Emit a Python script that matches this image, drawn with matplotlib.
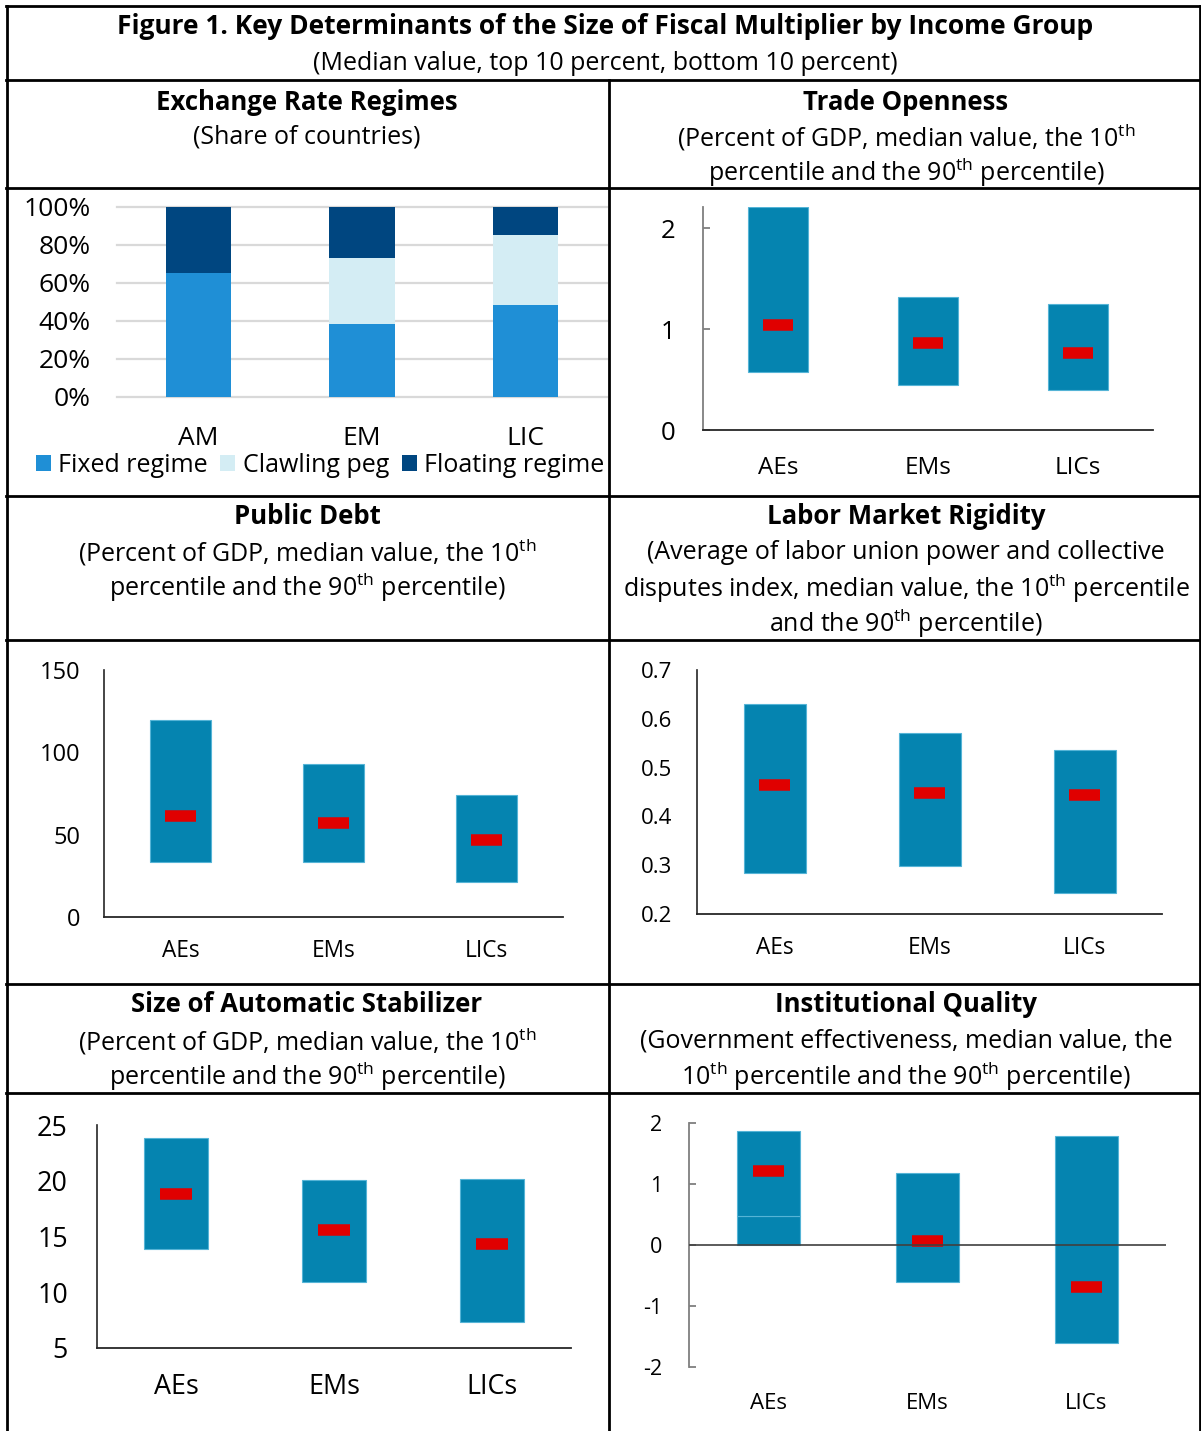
import matplotlib
matplotlib.use('Agg')
import matplotlib.pyplot as plt
from matplotlib.lines import Line2D
from matplotlib.ticker import FuncFormatter

# ---------------- data ----------------
regime_cats = ['AM', 'EM', 'LIC']
fixed_regime = [65.5, 38.5, 48.5]
clawling_peg = [0.0, 34.6, 36.8]
floating_regime = [34.5, 26.9, 14.7]

groups = ['AEs', 'EMs', 'LICs']
trade_p10 = [0.57, 0.45, 0.40]
trade_p90 = [2.21, 1.32, 1.25]
trade_med = [1.04, 0.86, 0.76]

debt_p10 = [33.4, 33.4, 21.3]
debt_p90 = [119.6, 92.9, 74.1]
debt_med = [61.3, 57.1, 46.8]

labor_p10 = [0.284, 0.298, 0.243]
labor_p90 = [0.630, 0.571, 0.536]
labor_med = [0.464, 0.448, 0.444]

stab_p10 = [13.85, 10.9, 7.3]
stab_p90 = [23.8, 20.1, 20.2]
stab_med = [18.8, 15.6, 14.3]

inst_p10 = [0.47, -0.61, -1.61]
inst_p90 = [1.87, 1.18, 1.79]
inst_med = [1.21, 0.07, -0.69]

# ---------------- style ----------------
W, H = 1201, 1431
plt.rcParams['font.family'] = ['Open Sans', 'DejaVu Sans']
plt.rcParams['mathtext.fontset'] = 'custom'
plt.rcParams['mathtext.rm'] = 'Open Sans'
plt.rcParams['mathtext.it'] = 'Open Sans:italic'
plt.rcParams['mathtext.bf'] = 'Open Sans:bold'

BAR = '#0584B0'
BAR_EDGE = '#55B4D6'
RED = '#E00000'
C_FIXED = '#1F8FD6'
C_CLAW = '#D4EDF4'
C_FLOAT = '#004680'

fig = plt.figure(figsize=(W / 100, H / 100), dpi=100)


def px_ax(l, t, r, b):
    return fig.add_axes([l / W, 1 - b / H, (r - l) / W, (b - t) / H])


def fx(x):
    return x / W


def fy(y):
    return 1 - y / H


def hline(y, x0, x1, lw=2.0):
    fig.add_artist(Line2D([fx(x0), fx(x1)], [fy(y), fy(y)], color='black', lw=lw,
                          transform=fig.transFigure))


def vline(x, y0, y1, lw=2.0):
    fig.add_artist(Line2D([fx(x), fx(x)], [fy(y0), fy(y1)], color='black', lw=lw,
                          transform=fig.transFigure))


# ---------------- borders ----------------
hline(6, 6, 1201)
vline(7, 6, 1431)
vline(1200, 6, 1431)
hline(80, 6, 1201)
vline(609, 80, 1431)
for yy in [188, 496, 640, 984, 1093]:
    hline(yy, 6, 1201)

# ---------------- headings ----------------
TS = 19
SS = 18
fig.text(fx(605), fy(27), 'Figure 1. Key Determinants of the Size of Fiscal Multiplier by Income Group',
         ha='center', va='center', fontsize=TS, fontweight='bold')
fig.text(fx(605), fy(64), '(Median value, top 10 percent, bottom 10 percent)',
         ha='center', va='center', fontsize=SS)

TH = r'$^{\mathrm{th}}$'
heads = [
    (307, 102, 'Exchange Rate Regimes', [(137, '(Share of countries)')]),
    (906, 102, 'Trade Openness', [(137, '(Percent of GDP, median value, the 10' + TH),
                                  (172, 'percentile and the 90' + TH + ' percentile)')]),
    (307, 517, 'Public Debt', [(552, '(Percent of GDP, median value, the 10' + TH),
                               (587, 'percentile and the 90' + TH + ' percentile)')]),
    (906, 517, 'Labor Market Rigidity', [(552, '(Average of labor union power and collective'),
                                         (588, 'disputes index, median value, the 10' + TH + ' percentile'),
                                         (623, 'and the 90' + TH + ' percentile)')]),
    (307, 1005, 'Size of Automatic Stabilizer', [(1041, '(Percent of GDP, median value, the 10' + TH),
                                                 (1076, 'percentile and the 90' + TH + ' percentile)')]),
    (906, 1005, 'Institutional Quality', [(1041, '(Government effectiveness, median value, the'),
                                          (1076, '10' + TH + ' percentile and the 90' + TH + ' percentile)')]),
]
for cx, cy, title, subs in heads:
    fig.text(fx(cx), fy(cy), title, ha='center', va='center', fontsize=TS - 0.5, fontweight='bold')
    for sy, s in subs:
        fig.text(fx(cx), fy(sy), s, ha='center', va='center', fontsize=SS)

# ---------------- panel 1: exchange rate regimes ----------------
ax1 = px_ax(117, 207, 607, 397)
x = list(range(len(regime_cats)))
b1 = ax1.bar(x, fixed_regime, width=0.4, color=C_FIXED, label='Fixed regime', zorder=2)
bot2 = fixed_regime
b2 = ax1.bar(x, clawling_peg, width=0.4, bottom=bot2, color=C_CLAW, label='Clawling peg', zorder=2)
bot3 = [a + b for a, b in zip(fixed_regime, clawling_peg)]
b3 = ax1.bar(x, floating_regime, width=0.4, bottom=bot3, color=C_FLOAT, label='Floating regime', zorder=2)
ax1.set_xlim(-0.5, 2.5)
ax1.set_ylim(0, 100)
ax1.set_yticks(range(0, 101, 20))
ax1.yaxis.set_major_formatter(FuncFormatter(lambda v, p: f'{v:.0f}%'))
ax1.set_xticks(x)
ax1.set_xticklabels(regime_cats)
ax1.yaxis.grid(True, color='#D9D9D9', lw=1.6, zorder=0)
for ln in ax1.get_ygridlines():
    ln.set_clip_on(False)
ax1.set_axisbelow(True)
for s in ax1.spines.values():
    s.set_visible(False)
ax1.tick_params(axis='y', length=0, pad=19, labelsize=19)
ax1.tick_params(axis='x', length=0, pad=21, labelsize=19)
fig.legend(handles=[b1, b2, b3], labels=['Fixed regime', 'Clawling peg', 'Floating regime'],
           loc='center', bbox_to_anchor=(fx(320), fy(465)), ncol=3, frameon=False, fontsize=18,
           handlelength=0.6, handleheight=0.6, handletextpad=0.3, columnspacing=0.5,
           borderpad=0, borderaxespad=0)


# ---------------- range panels ----------------
def range_panel(ax, p10, p90, med, ylim, yticks, fmt, lab_pad, lab_size, xpad, xsize,
                gray_left=False, zero_line=False, split_positive=False):
    xs = list(range(len(groups)))
    for i in xs:
        lo, hi = p10[i], p90[i]
        if split_positive and lo > 0:
            ax.bar(i, lo, width=0.4, bottom=0, color=BAR, edgecolor=BAR_EDGE, lw=0.8, zorder=2)
        ax.bar(i, hi - lo, width=0.4, bottom=lo, color=BAR, edgecolor=BAR_EDGE, lw=0.8, zorder=2)
        ax.plot([i - 0.1, i + 0.1], [med[i], med[i]], color=RED, lw=8.3,
                solid_capstyle='butt', zorder=3)
    ax.set_xlim(-0.5, 2.5)
    ax.set_ylim(*ylim)
    ax.set_yticks(yticks)
    ax.yaxis.set_major_formatter(FuncFormatter(fmt))
    ax.set_xticks(xs)
    ax.set_xticklabels(groups)
    ax.spines['top'].set_visible(False)
    ax.spines['right'].set_visible(False)
    ax.tick_params(axis='x', length=0, pad=xpad, labelsize=xsize)
    if gray_left:
        ax.spines['left'].set_color('#7F7F7F')
        ax.spines['left'].set_linewidth(1.3)
        ax.tick_params(axis='y', direction='in', length=5, width=1.3, color='#7F7F7F',
                       pad=lab_pad, labelsize=lab_size)
    else:
        ax.spines['left'].set_color('#262626')
        ax.spines['left'].set_linewidth(1.2)
        ax.tick_params(axis='y', length=0, pad=lab_pad, labelsize=lab_size)
    ax.spines['bottom'].set_color('#262626')
    ax.spines['bottom'].set_linewidth(1.3)
    if zero_line:
        ax.spines['bottom'].set_visible(False)
        ax.axhline(0, color='#404040', lw=1.2, zorder=4)


ax2 = px_ax(703, 207, 1153, 430)
range_panel(ax2, trade_p10, trade_p90, trade_med, (0, 2.21), [0, 1, 2],
            lambda v, p: f'{v:.0f}', 20, 18.5, 19, 17.5, gray_left=True)

ax3 = px_ax(104, 670, 563, 917)
range_panel(ax3, debt_p10, debt_p90, debt_med, (0, 150), [0, 50, 100, 150],
            lambda v, p: f'{v:.0f}', 17, 17, 16, 16.3)

ax4 = px_ax(697, 670, 1162, 914)
range_panel(ax4, labor_p10, labor_p90, labor_med, (0.2, 0.7), [0.2, 0.3, 0.4, 0.5, 0.6, 0.7],
            lambda v, p: f'{v:.1f}', 18, 16, 16, 16.3)

ax5 = px_ax(97, 1125, 571, 1348)
range_panel(ax5, stab_p10, stab_p90, stab_med, (5, 25), [5, 10, 15, 20, 25],
            lambda v, p: f'{v:.0f}', 21, 19.4, 18, 19.4)

ax6 = px_ax(689, 1123, 1166, 1367)
range_panel(ax6, inst_p10, inst_p90, inst_med, (-2, 2), [-2, -1, 0, 1, 2],
            lambda v, p: f'{v:.0f}', 19, 15.5, 19, 16, gray_left=True, zero_line=True,
            split_positive=True)

fig.savefig('out.png', dpi=100)
